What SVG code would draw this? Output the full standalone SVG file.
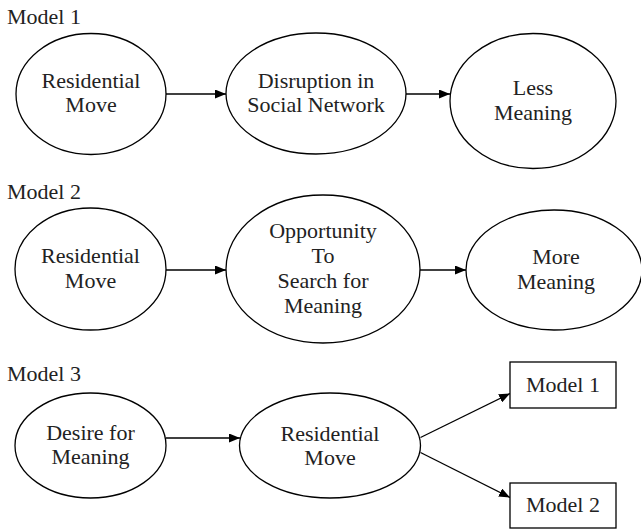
<svg xmlns="http://www.w3.org/2000/svg" width="641" height="529" viewBox="0 0 641 529">
<style>
.n{fill:#fff;stroke:#000;stroke-width:1.3}
.t{text-anchor:middle}
.c{stroke:#000;stroke-width:1.3;fill:none;marker-end:url(#ah)}
</style>
<defs>
<marker id="ah" markerUnits="userSpaceOnUse" markerWidth="11" markerHeight="9" refX="11" refY="4.5" orient="auto">
<path d="M0,0 L11,4.5 L0,9 z" fill="#000"/>
</marker>
</defs>
<rect width="641" height="529" fill="#fff"/>
<g font-family="Liberation Serif, Tinos, DejaVu Serif, serif" font-size="22" fill="#222">
<text x="7" y="24">Model 1</text>
<text x="7" y="199">Model 2</text>
<text x="7" y="381">Model 3</text>
</g>
<g id="connectors">
<line class="c" x1="166" y1="94" x2="226" y2="94"/>
<line class="c" x1="406" y1="94" x2="450" y2="94"/>
<line class="c" x1="166" y1="270" x2="226" y2="270"/>
<line class="c" x1="420" y1="270" x2="466" y2="270"/>
<line class="c" x1="166" y1="438" x2="240" y2="438"/>
<line class="c" x1="420.5" y1="437.5" x2="510" y2="393.5"/>
<line class="c" x1="420.5" y1="452.5" x2="510" y2="497.5"/>
</g>
<g font-family="Liberation Serif, Tinos, DejaVu Serif, serif" font-size="22" fill="#222">
<g id="m1-residential"><ellipse class="n" cx="91" cy="94" rx="75" ry="60.5"/><text class="t" x="91" y="88">Residential</text><text class="t" x="91" y="112">Move</text></g>
<g id="m1-disruption"><ellipse class="n" cx="316" cy="93.5" rx="90" ry="60.5"/><text class="t" x="316" y="88">Disruption in</text><text class="t" x="316" y="112">Social Network</text></g>
<g id="m1-less"><ellipse class="n" cx="533" cy="101" rx="83" ry="67.5"/><text class="t" x="533" y="95">Less</text><text class="t" x="533" y="120">Meaning</text></g>
<g id="m2-residential"><ellipse class="n" cx="90.5" cy="269" rx="75.5" ry="61"/><text class="t" x="90.5" y="263">Residential</text><text class="t" x="90.5" y="288">Move</text></g>
<g id="m2-opportunity"><ellipse class="n" cx="323" cy="269" rx="97" ry="74"/><text class="t" x="323" y="238">Opportunity</text><text class="t" x="323" y="263">To</text><text class="t" x="323" y="288">Search for</text><text class="t" x="323" y="313">Meaning</text></g>
<g id="m2-more"><ellipse class="n" cx="554" cy="270" rx="88" ry="60"/><text class="t" x="556" y="264">More</text><text class="t" x="556" y="289">Meaning</text></g>
<g id="m3-desire"><ellipse class="n" cx="90.5" cy="445.5" rx="75.5" ry="52.5"/><text class="t" x="90.5" y="440">Desire for</text><text class="t" x="90.5" y="464">Meaning</text></g>
<g id="m3-residential"><ellipse class="n" cx="330" cy="445.5" rx="90.5" ry="52.5"/><text class="t" x="330" y="441">Residential</text><text class="t" x="330" y="465">Move</text></g>
<g id="m3-model1"><rect class="n" x="510" y="362" width="106" height="46"/><text class="t" x="563" y="392">Model 1</text></g>
<g id="m3-model2"><rect class="n" x="510" y="483" width="106" height="45"/><text class="t" x="563" y="512">Model 2</text></g>
</g>
</svg>
